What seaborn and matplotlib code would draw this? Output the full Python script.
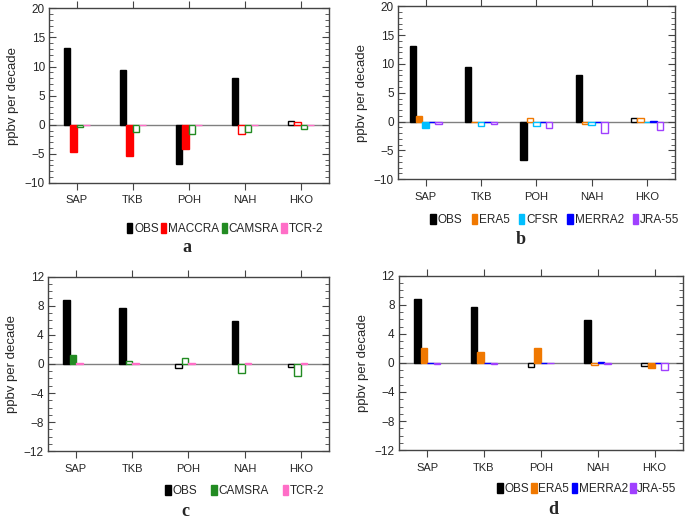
import matplotlib
matplotlib.use('Agg')
import matplotlib.pyplot as plt
from matplotlib.patches import Patch
from matplotlib.ticker import MultipleLocator
import pandas as pd
import seaborn as sns

sites = ['SAP', 'TKB', 'POH', 'NAH', 'HKO']

# panel a: OBS vs chemical reanalyses (1 = significant -> filled bar)
a_obs = [13.1, 9.4, -6.7, 8.1, 0.6]
a_obs_sig = [1, 1, 1, 1, 0]
a_maccra = [-4.7, -5.4, -4.2, -1.6, 0.45]
a_maccra_sig = [1, 1, 1, 0, 0]
a_camsra = [-0.4, -1.3, -1.55, -1.2, -0.7]
a_camsra_sig = [0, 0, 0, 0, 0]
a_tcr2 = [-0.05, -0.05, -0.05, -0.05, -0.05]
a_tcr2_sig = [1, 1, 1, 1, 1]

# panel b: OBS vs meteorological reanalyses
b_obs = [13.15, 9.45, -6.7, 8.1, 0.6]
b_obs_sig = [1, 1, 1, 1, 0]
b_era5 = [1.05, -0.05, 0.7, -0.35, 0.6]
b_era5_sig = [1, 0, 0, 0, 0]
b_cfsr = [-1.05, -0.8, -0.8, -0.65, -0.05]
b_cfsr_sig = [1, 0, 0, 0, 0]
b_merra2 = [-0.1, -0.1, -0.1, -0.05, 0.05]
b_merra2_sig = [1, 1, 1, 1, 1]
b_jra55 = [-0.45, -0.4, -1.05, -1.9, -1.5]
b_jra55_sig = [0, 0, 0, 0, 0]

# panel c
c_obs = [8.85, 7.7, -0.6, 5.9, -0.4]
c_obs_sig = [1, 1, 0, 1, 0]
c_camsra = [1.25, 0.4, 0.8, -1.25, -1.7]
c_camsra_sig = [1, 0, 0, 0, 0]
c_tcr2 = [0.1, 0.1, 0.1, 0.1, 0.1]
c_tcr2_sig = [1, 1, 1, 1, 1]

# panel d
d_obs = [8.85, 7.7, -0.6, 5.95, -0.4]
d_obs_sig = [1, 1, 0, 1, 0]
d_era5 = [2.05, 1.5, 2.05, -0.3, -0.75]
d_era5_sig = [1, 1, 1, 0, 1]
d_merra2 = [-0.05, -0.05, -0.05, 0.1, 0.05]
d_merra2_sig = [1, 1, 1, 0, 0]
d_jra55 = [-0.1, -0.1, -0.05, -0.2, -1.0]
d_jra55_sig = [0, 0, 0, 0, 0]

colors = {'OBS': '#000000', 'MACCRA': '#ff0000', 'CAMSRA': '#228b22',
          'TCR-2': '#ff6ec7', 'ERA5': '#f07800', 'CFSR': '#00bfff',
          'MERRA2': '#0000ff', 'JRA-55': '#a040ff', 'gap': '#ffffff'}

BAR_W = 0.116


def draw_panel(ax, series, slots, ylim, ystep, letter, letter_xy, leg_xy, colsp):
    rows = []
    for name, vals, sig in series:
        for s, v, g in zip(sites, vals, sig):
            rows.append({'site': s, 'source': name, 'value': v, 'sig': g})
    df = pd.DataFrame(rows)
    lookup = {(r.site, r.source): r.sig for r in df.itertuples()}
    pal = {k: colors[k] for k in slots}
    full = BAR_W * len(slots)
    sns.barplot(data=df, x='site', y='value', hue='source', order=sites,
                hue_order=slots, palette=pal, width=full, dodge=True, gap=0,
                errorbar=None, legend=False, saturation=1, ax=ax)
    # filled = significant, hollow = not significant
    for p in ax.patches:
        xc = p.get_x() + p.get_width() / 2
        i = int(round(xc))
        k = int(round((xc - i + full / 2) / BAR_W - 0.5))
        name = slots[k]
        col = colors[name]
        p.set_edgecolor(col)
        p.set_linewidth(1.0)
        if lookup.get((sites[i], name), 1):
            p.set_facecolor(col)
        else:
            p.set_facecolor('white')
    ax.axhline(0, color='#808080', lw=1.0, zorder=0.5)
    ax.set_xlim(-0.5, 4.5)
    ax.set_ylim(*ylim)
    ax.yaxis.set_major_locator(MultipleLocator(ystep))
    ax.yaxis.set_minor_locator(MultipleLocator(1))
    ax.set_xlabel('')
    ax.set_ylabel('ppbv per decade', fontsize=9.5, labelpad=4)
    ax.tick_params(axis='y', which='both', direction='in', left=True,
                   right=True, labelsize=8.5, color='#444444', pad=3)
    ax.tick_params(axis='y', which='major', length=5)
    ax.tick_params(axis='y', which='minor', length=3)
    ax.tick_params(axis='x', which='major', direction='out', top=True,
                   bottom=True, length=5, labelsize=8, color='#444444', pad=4)
    for sp in ax.spines.values():
        sp.set_color('#444444')
        sp.set_linewidth(1.0)
    names = [s for s in slots if s != 'gap']
    handles = [Patch(facecolor=colors[n], edgecolor=colors[n]) for n in names]
    fig.legend(handles, names, loc='center', bbox_to_anchor=leg_xy,
               ncol=len(names), frameon=False, fontsize=8.5,
               handlelength=0.45, handleheight=1.0, handletextpad=0.15,
               columnspacing=colsp, borderaxespad=0, borderpad=0)
    fig.text(letter_xy[0], letter_xy[1], letter, ha='center', va='center',
             fontsize=13, fontweight='bold', family='Liberation Serif')


sns.set_style('white')
plt.rcParams['font.family'] = ['Liberation Sans', 'DejaVu Sans']

fig = plt.figure(figsize=(6.85, 5.21), dpi=100)
ax_a = fig.add_axes([0.0715, 0.649, 0.4085, 0.335])
ax_b = fig.add_axes([0.581, 0.656, 0.404, 0.332])
ax_c = fig.add_axes([0.070, 0.134, 0.410, 0.335])
ax_d = fig.add_axes([0.582, 0.136, 0.415, 0.335])

draw_panel(ax_a,
           [('OBS', a_obs, a_obs_sig), ('MACCRA', a_maccra, a_maccra_sig),
            ('CAMSRA', a_camsra, a_camsra_sig), ('TCR-2', a_tcr2, a_tcr2_sig)],
           ['OBS', 'MACCRA', 'CAMSRA', 'TCR-2'], (-10, 20), 5,
           'a', (187 / 685, 1 - 248 / 521), (225 / 685, 1 - 229 / 521), 0.2)
draw_panel(ax_b,
           [('OBS', b_obs, b_obs_sig), ('ERA5', b_era5, b_era5_sig),
            ('CFSR', b_cfsr, b_cfsr_sig), ('MERRA2', b_merra2, b_merra2_sig),
            ('JRA-55', b_jra55, b_jra55_sig)],
           ['OBS', 'ERA5', 'CFSR', 'MERRA2', 'JRA-55'], (-10, 20), 5,
           'b', (521 / 685, 1 - 239 / 521), (555 / 685, 1 - 220 / 521), 0.8)
draw_panel(ax_c,
           [('OBS', c_obs, c_obs_sig), ('CAMSRA', c_camsra, c_camsra_sig),
            ('TCR-2', c_tcr2, c_tcr2_sig)],
           ['OBS', 'CAMSRA', 'TCR-2', 'gap'], (-12, 12), 4,
           'c', (185 / 685, 1 - 511 / 521), (245 / 685, 1 - 491 / 521), 1.2)
draw_panel(ax_d,
           [('OBS', d_obs, d_obs_sig), ('ERA5', d_era5, d_era5_sig),
            ('MERRA2', d_merra2, d_merra2_sig), ('JRA-55', d_jra55, d_jra55_sig)],
           ['OBS', 'ERA5', 'MERRA2', 'JRA-55'], (-12, 12), 4,
           'd', (553 / 685, 1 - 510 / 521), (587 / 685, 1 - 489 / 521), 0.2)

fig.savefig('out.png', dpi=100)
